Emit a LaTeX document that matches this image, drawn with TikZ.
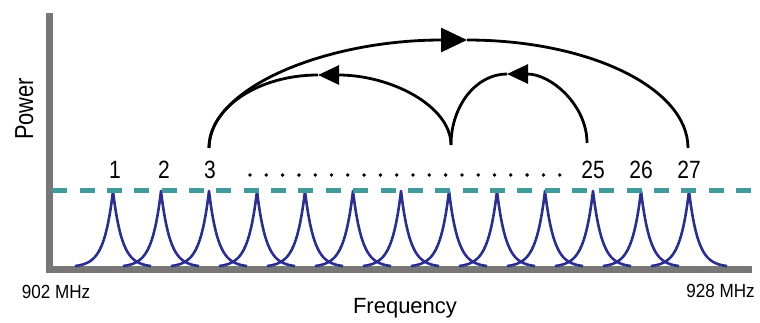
\documentclass[tikz,border=0pt]{standalone}
\usepackage{fontspec}
\setmainfont{Liberation Sans}
\newfontfamily\narrowsans[FakeStretch=0.84]{Liberation Sans}
\newfontfamily\mhzsans[FakeStretch=0.9]{Liberation Sans}
\usetikzlibrary{arrows.meta}
\definecolor{axisgray}{HTML}{777777}
\definecolor{peakblue}{HTML}{2B2F8C}
\definecolor{limitteal}{HTML}{419A9C}
\tikzset{
  axisbar/.style={draw=axisgray, line width=7pt},
  peak/.style={draw=peakblue, line width=2.6pt, line join=round},
  limitline/.style={draw=limitteal, line width=4.4pt, dash pattern=on 15pt off 12.35pt},
  hop/.style={draw=black, line width=2.8pt},
  bigtip/.style={-{Triangle[length=26pt,width=24pt]}},
  smalltip/.style={-{Triangle[length=21pt,width=19pt]}},
  chan/.style={font=\narrowsans\fontsize{25}{25}\selectfont, anchor=base, inner sep=0pt},
  mhz/.style={font=\mhzsans\fontsize{19}{19}\selectfont, anchor=base, inner sep=0pt},
  axlabel/.style={font=\fontsize{22}{22}\selectfont, anchor=base, inner sep=0pt}
}
\begin{document}
\begin{tikzpicture}[x=1pt,y=-1pt]
\useasboundingbox (0,0) rectangle (760,322);

% axes
\coordinate (ytop) at (49.5,13);
\coordinate (origin) at (49.5,269.5);
\coordinate (xend) at (752,269.5);
\draw[axisbar] (ytop) -- (origin |- 0,273) ;
\draw[axisbar] (46,269.5) -- (xend);

% channel peaks
\foreach \k in {0,...,12}{
  \pgfmathsetmacro\xo{113+48*\k}
  \draw[peak] plot[domain=-38:38, samples=77] ({\xo+\x},{266-75*(exp(-abs(\x)/9)-0.0147)/0.9853});
}

% limit line
\coordinate (dl) at (52.3,190.5);
\coordinate (dr) at (751,190.5);
\draw[limitline] (dl) -- (dr);

% channel labels
\node[chan] (l1) at (115,178) {1};
\node[chan] (l2) at (164,178) {2};
\node[chan] (l3) at (210,178) {3};
\node[chan] (l25) at (593,178) {25};
\node[chan] (l26) at (641,178) {26};
\node[chan] (l27) at (689,178) {27};

% dots
\foreach \i in {0,...,19}{
  \fill (250+16.3*\i,175) circle (1.9);
}

% hop arcs
\coordinate (c3) at (209,148);
\coordinate (c25) at (587,143);
\coordinate (c27) at (688,148);
\coordinate (cusp) at (451,145);
\coordinate (A) at (467,40);
\coordinate (B) at (318,75);
\coordinate (C) at (507,74);

\draw[hop,bigtip] (c3) .. controls (209,88) and (325,40) .. (A);
\draw[hop] (A) .. controls (589,40) and (688,88) .. (c27);

\draw[hop,smalltip] (cusp) .. controls (451,106) and (391,75) .. (B);
\draw[hop] (B) .. controls (258,75) and (209,108) .. (c3);

\draw[hop,smalltip] (c25) .. controls (587,105) and (551,74) .. (C);
\draw[hop] (C) .. controls (476,74) and (451,106) .. (cusp);

% axis labels
\node[chan, rotate=90, font=\narrowsans\fontsize{26}{26}\selectfont] (power) at (33,109) {Power};
\node[axlabel] (freq) at (405,313) {Frequency};
\node[mhz] (f902) at (56,298) {902 MHz};
\node[mhz] (f928) at (720.5,297.5) {928 MHz};
\end{tikzpicture}
\end{document}
